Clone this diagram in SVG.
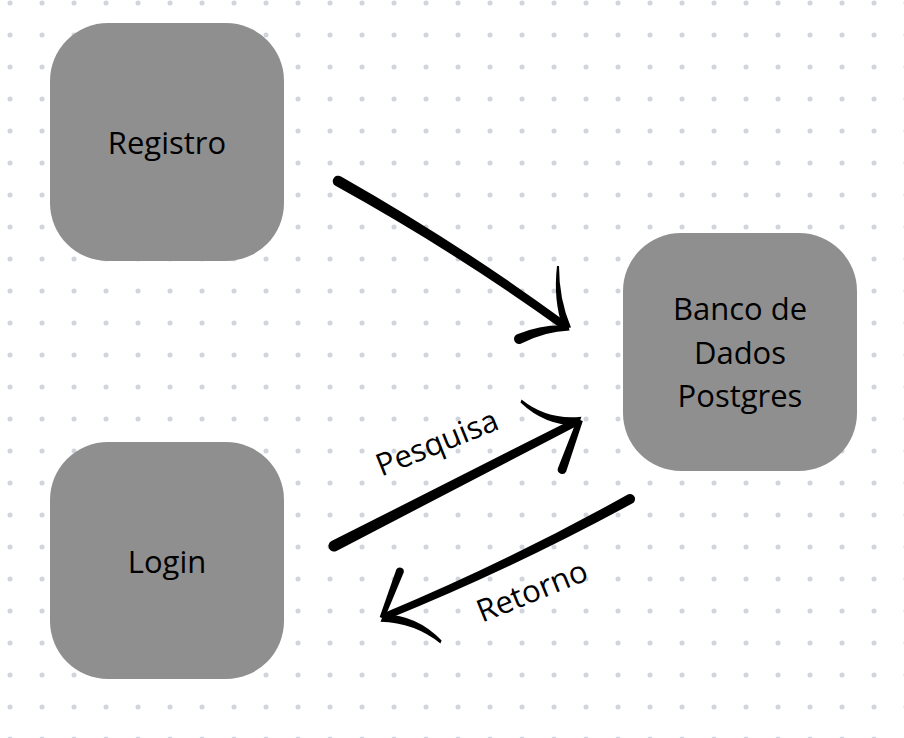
<svg xmlns="http://www.w3.org/2000/svg" width="904" height="738" viewBox="0 0 904 738">
  <style>
    .box { fill: #8f8f8f; }
    .lbl { font-family: "Open Sans", "Liberation Sans", sans-serif; font-size: 31px; fill: #000; text-anchor: middle; }
    .elbl { font-family: "Open Sans", "Liberation Sans", sans-serif; font-size: 31px; fill: #000; text-anchor: middle; }
    .brush { fill: #000; }
  </style>
  <defs>
    <pattern id="dots" patternUnits="userSpaceOnUse" x="-6" y="-13" width="32" height="32">
      <circle cx="16" cy="16" r="2.5" fill="#d0d4dc"/>
    </pattern>
  </defs>
  <rect x="0" y="0" width="904" height="738" fill="#ffffff"/>
  <rect x="0" y="0" width="904" height="738" fill="url(#dots)"/>

  <g id="registro">
    <rect class="box" x="50" y="23" width="234" height="238" rx="58" ry="58"/>
    <text class="lbl" x="167" y="154">Registro</text>
  </g>

  <g id="login">
    <rect class="box" x="50" y="442" width="234" height="237" rx="58" ry="58"/>
    <text class="lbl" x="167" y="573">Login</text>
  </g>

  <g id="banco">
    <rect class="box" x="623" y="233" width="234" height="238" rx="58" ry="58"/>
    <text class="lbl" x="740" y="320">Banco de</text>
    <text class="lbl" x="740" y="364">Dados</text>
    <text class="lbl" x="740" y="407">Postgres</text>
  </g>

  <g id="connectors">
    <!-- Registro -> Banco -->
    <path class="brush" d="M 341.0,176.4 Q 459.9,243.8 566.2,322.1 L 561.8,328.9 Q 454.7,251.8 335.0,185.6 A 5.5 5.5 0 0 1 341.0,176.4 Z"/>
    <path class="brush" d="M 559,265.9 Q 559.0,299.6 571.0,327.4 L 563.0,328.6 Q 553.0,300.4 557,266.1 Z"/>
    <path class="brush" d="M 517.9,334.1 Q 543.2,323.8 568.5,325.6 L 569.5,330.4 Q 544.8,331.2 520.1,343.9 A 5 5 0 0 1 517.9,334.1 Z"/>

    <!-- Login -> Banco (Pesquisa) -->
    <path class="brush" d="M 331.5,541.1 L 572.2,419.4 L 575.8,426.6 L 336.5,550.9 A 5.5 5.5 0 0 1 331.5,541.1 Z"/>
    <path class="brush" d="M 521.5,399.6 Q 547.3,420.5 581.4,416.7 L 578.6,425.3 Q 545.3,426.1 520.5,402.4 Z"/>
    <path class="brush" d="M 577.2,419.0 L 557.8,468.5 A 4.5 4.5 0 0 0 566.2,471.5 L 582.8,421.0 Z"/>
    <text class="elbl" transform="translate(441,452.6) rotate(-22)">Pesquisa</text>

    <!-- Banco -> Login (Retorno) -->
    <path class="brush" d="M 627.8,494.5 Q 508.1,561.4 384.5,612.8 L 387.5,619.2 Q 511.7,569.0 632.2,503.5 A 5 5 0 0 0 627.8,494.5 Z"/>
    <path class="brush" d="M 396.3,569.6 L 379.7,617.1 L 384.3,618.9 L 403.7,572.4 A 4 4 0 0 0 396.3,569.6 Z"/>
    <path class="brush" d="M 383.5,614.3 Q 417.5,615.2 441.6,640.6 L 440.4,643.4 Q 414.5,622.6 380.5,621.7 Z"/>
    <text class="elbl" transform="translate(536,601) rotate(-22)">Retorno</text>
  </g>
</svg>
